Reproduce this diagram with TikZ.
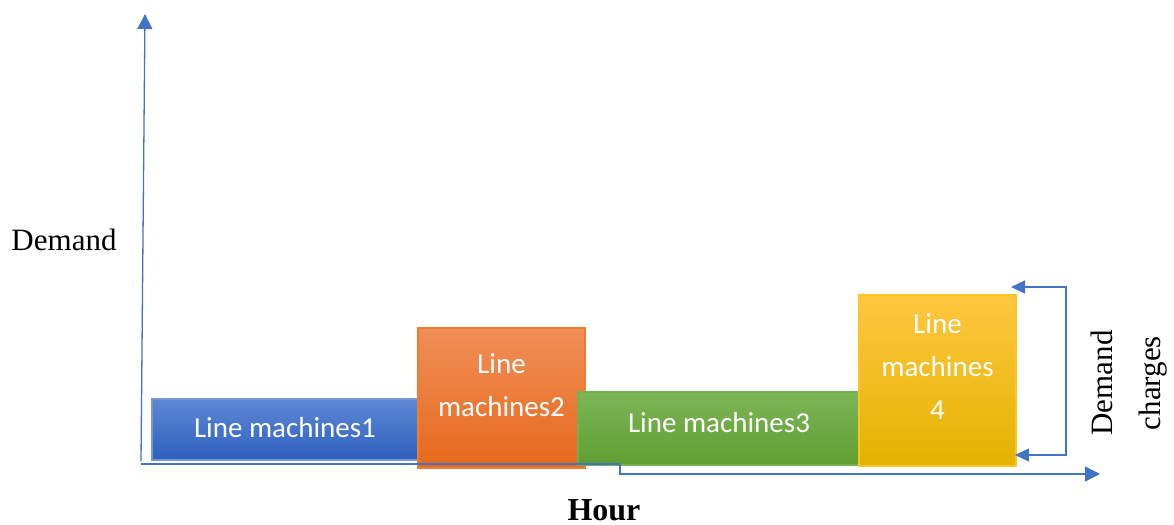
\documentclass[tikz,border=0pt]{standalone}
\usepackage{fontspec}
\setmainfont{Liberation Serif}
\newfontfamily\boxfont{Carlito}
\usetikzlibrary{arrows.meta,positioning}
\definecolor{AxisBlue}{RGB}{68,114,196}
\definecolor{BlueTop}{RGB}{93,136,212}
\definecolor{BlueBot}{RGB}{45,96,189}
\definecolor{BlueLine}{RGB}{118,150,212}
\definecolor{OrangeTop}{RGB}{241,142,88}
\definecolor{OrangeBot}{RGB}{230,105,26}
\definecolor{OrangeLine}{RGB}{237,125,49}
\definecolor{GreenTop}{RGB}{124,182,86}
\definecolor{GreenBot}{RGB}{96,158,50}
\definecolor{GreenLine}{RGB}{118,175,78}
\definecolor{YellowTop}{RGB}{255,199,64}
\definecolor{YellowMid}{RGB}{255,192,0}
\definecolor{YellowBot}{RGB}{228,178,0}
\definecolor{YellowLine}{RGB}{255,196,30}
\tikzset{
  machbox/.style={rectangle,line width=0.6pt,inner sep=0pt},
  boxtext/.style={font=\boxfont\fontsize{14.5}{21.5}\selectfont,
    text=white,align=center,inner sep=0pt},
  axisarrow/.style={-{Triangle[length=7.5pt,width=7.5pt]},
    line width=0.65pt,draw=AxisBlue},
  axislabel/.style={font=\fontsize{15.5}{24}\selectfont,align=center},
}

\begin{document}
\begin{tikzpicture}[x=0.5pt,y=-0.5pt]
  \useasboundingbox (0,0) rectangle (1174,525);
  % machine blocks
  \node[machbox,draw=BlueLine,top color=BlueTop,bottom color=BlueBot,
    minimum width=133pt,minimum height=30.5pt,
    label={[boxtext,yshift=1pt]center:Line machines1}] (m1) at (285,429.5) {};
  \node[machbox,draw=OrangeLine,top color=OrangeTop,bottom color=OrangeBot,
    minimum width=83.5pt,minimum height=70pt,
    label={[boxtext,yshift=6.5pt]center:{Line\\machines2}}] (m2) at (501.5,398) {};
  \node[machbox,draw=GreenLine,top color=GreenTop,bottom color=GreenBot,
    minimum width=141pt,minimum height=36.5pt,
    label={[boxtext,yshift=3pt]center:Line machines3}] (m3) at (719,428.5) {};
  \node[machbox,draw=YellowLine,top color=YellowTop,middle color=YellowMid,
    bottom color=YellowBot,minimum width=78.5pt,minimum height=85.5pt,
    label={[boxtext,yshift=6.75pt]center:{Line\\machines\\4}}] (m4) at (937.5,380.5) {};

  % axes
  \coordinate (yfoot) at (141,461);
  \coordinate (ytip) at (145,14);
  \coordinate (origin) at (141,464);
  \coordinate (step) at (620,464);
  \coordinate (xtip) at (1100,474);
  \draw[axisarrow] (yfoot) -- (ytip);
  \draw[axisarrow] (origin) -- (step) |- (xtip);

  % demand charge bracket
  \coordinate (dctop) at (1011,287);
  \coordinate (dcside) at (1066,370);
  \coordinate (dcbot) at (1015,455);
  \draw[axisarrow,{Triangle[length=7pt,width=6.5pt]}-{Triangle[length=7pt,width=6.5pt]}]
    (dctop) -| (dcside) |- (dcbot);

  \node[axislabel] (demand) at (64,240) {Demand};
  \node[axislabel,font=\bfseries\fontsize{16}{24}\selectfont] (hour) at (604,510) {Hour};
  \node[axislabel,rotate=90] (charges) at (1129,383) {Demand\\charges};
\end{tikzpicture}
\end{document}
